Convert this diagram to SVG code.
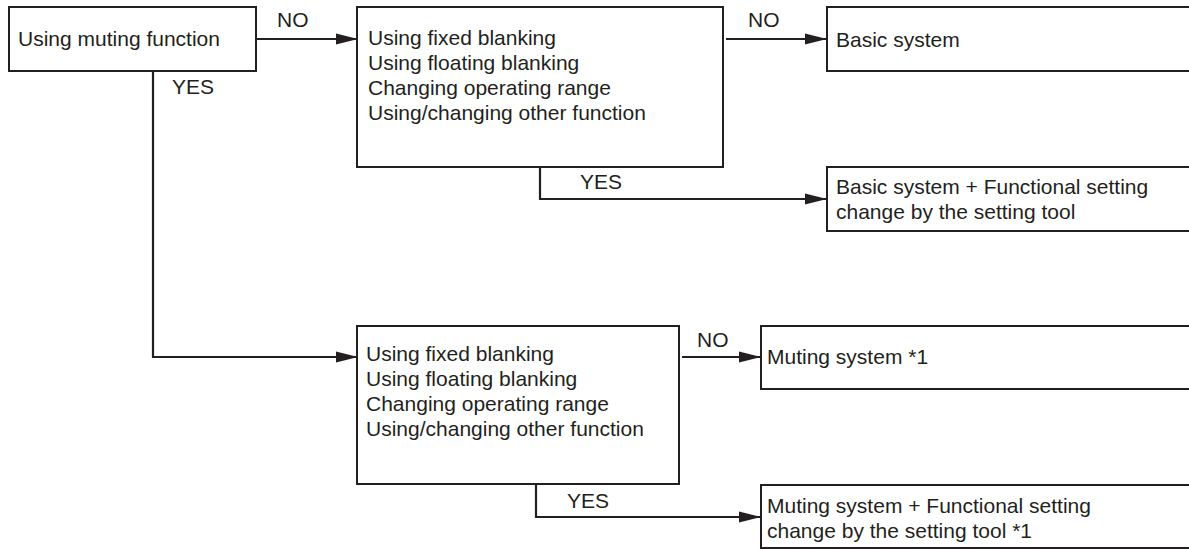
<svg xmlns="http://www.w3.org/2000/svg" width="1189" height="549" viewBox="0 0 1189 549">
<style>
.box{fill:#fff;stroke:#231f20;stroke-width:2}
.ln{fill:none;stroke:#231f20;stroke-width:2.2}
text{font-family:"Liberation Sans",Arial,sans-serif;font-size:21px;fill:#231f20}
</style>
<defs>
<marker id="ah" markerUnits="userSpaceOnUse" markerWidth="22" markerHeight="12" refX="21" refY="6" orient="auto">
<path d="M0,0.5 L22,6 L0,11.5 Z" fill="#231f20"/>
</marker>
</defs>
<rect width="1189" height="549" fill="#fff"/>
<g id="connectors">
<line class="ln" x1="256" y1="39" x2="357" y2="39" marker-end="url(#ah)"/>
<text x="277" y="27">NO</text>
<polyline class="ln" points="153,71 153,357 357,357" marker-end="url(#ah)"/>
<text x="172" y="94">YES</text>
<line class="ln" x1="726" y1="39" x2="826" y2="39" marker-end="url(#ah)"/>
<text x="748" y="27">NO</text>
<polyline class="ln" points="540,167 540,199 826,199" marker-end="url(#ah)"/>
<text x="580" y="189">YES</text>
<line class="ln" x1="682" y1="357" x2="760" y2="357" marker-end="url(#ah)"/>
<text x="697" y="347">NO</text>
<polyline class="ln" points="536,484 536,517 760,517" marker-end="url(#ah)"/>
<text x="567" y="508">YES</text>
</g>
<g id="n1">
<rect class="box" x="9" y="7" width="247" height="64"/>
<text x="18" y="46">Using muting function</text>
</g>
<g id="n2">
<rect class="box" x="357" y="7" width="366" height="160"/>
<text x="368" y="45">Using fixed blanking</text>
<text x="368" y="70">Using floating blanking</text>
<text x="368" y="95">Changing operating range</text>
<text x="368" y="120">Using/changing other function</text>
</g>
<g id="n3">
<rect class="box" x="827" y="7" width="380" height="64"/>
<text x="836" y="47">Basic system</text>
</g>
<g id="n4">
<rect class="box" x="827" y="167" width="380" height="64"/>
<text x="836" y="194">Basic system + Functional setting</text>
<text x="836" y="219">change by the setting tool</text>
</g>
<g id="n5">
<rect class="box" x="357" y="326" width="322" height="158"/>
<text x="366" y="361">Using fixed blanking</text>
<text x="366" y="386">Using floating blanking</text>
<text x="366" y="411">Changing operating range</text>
<text x="366" y="436">Using/changing other function</text>
</g>
<g id="n6">
<rect class="box" x="761" y="326" width="440" height="63"/>
<text x="767" y="364">Muting system *1</text>
</g>
<g id="n7">
<rect class="box" x="761" y="485" width="440" height="63"/>
<text x="767" y="513">Muting system + Functional setting</text>
<text x="767" y="538">change by the setting tool *1</text>
</g>
</svg>
